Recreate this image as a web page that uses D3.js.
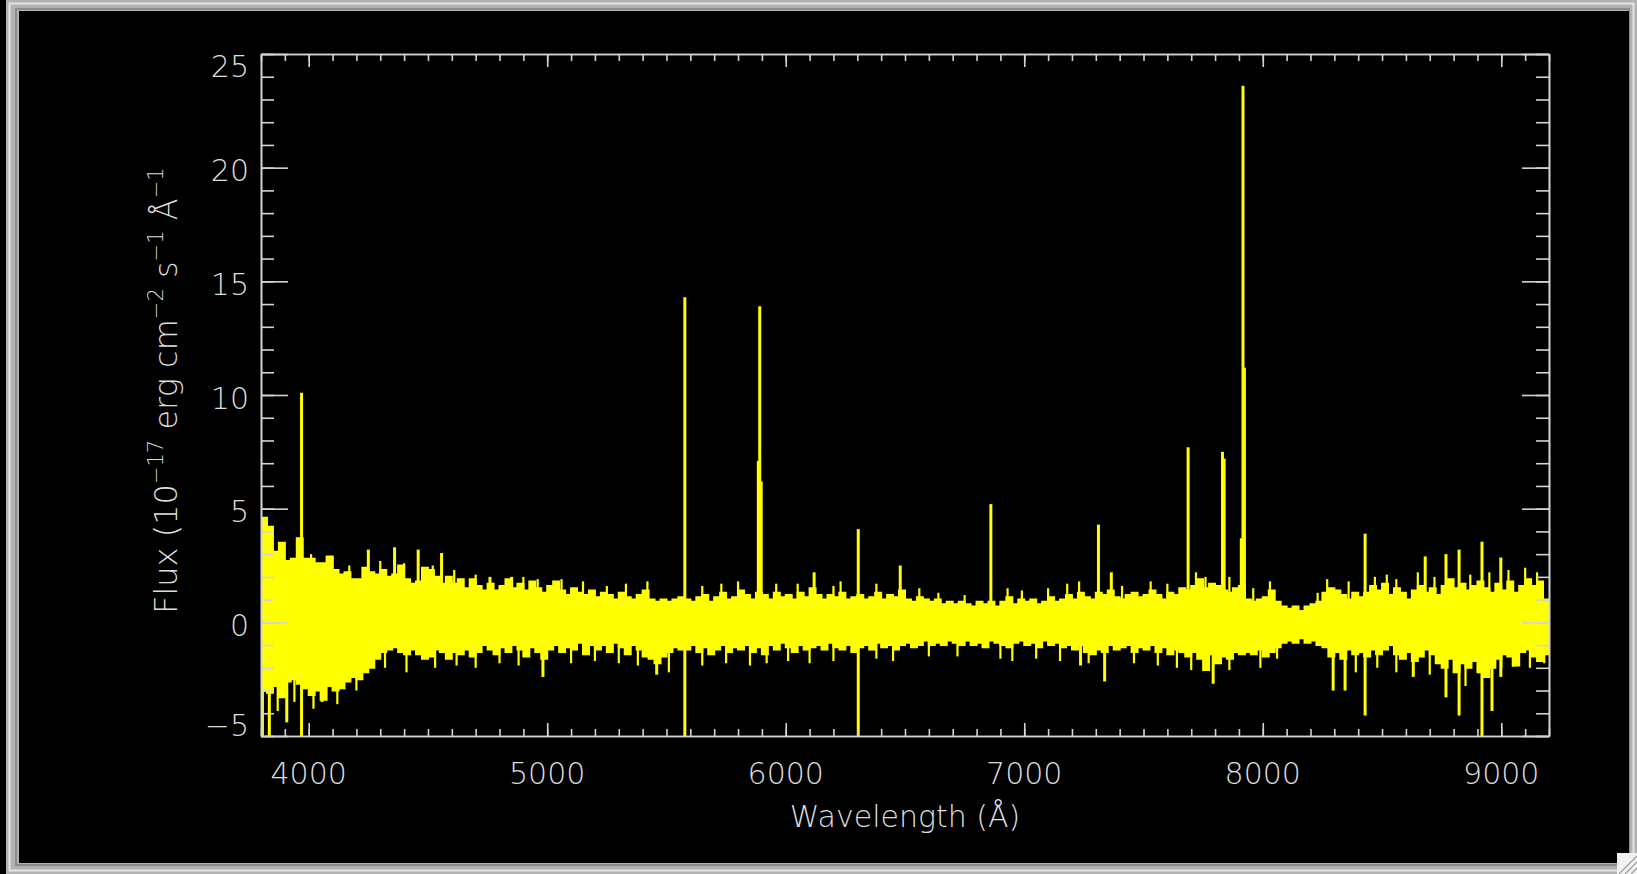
<!DOCTYPE html>
<html>
<head>
<meta charset="utf-8">
<script src="https://cdn.jsdelivr.net/npm/d3@7"></script>
<style>
  html, body { margin: 0; padding: 0; background: #000; overflow: hidden; }
  svg { display: block; }
  text { font-family: "DejaVu Sans", sans-serif; font-weight: 200; fill: #dedede; }
</style>
</head>
<body>
<script>
// spectrum: the noisy band is kept as an upper and a
// lower envelope in 25 A bins, the narrow lines and dips are listed apart

var binStart = 3800, binStep = 25;

var fluxHi = [
  4.6, 4.2, 3.1, 3.5, 2.7, 2.8, 3.7, 2.8,
  2.8, 2.6, 2.6, 2.9, 2.3, 2.1, 2.2, 1.9,
  1.9, 2.4, 2.2, 2.1, 2.3, 2.0, 2.1, 2.5,
  1.9, 1.7, 1.8, 2.4, 2.3, 2.0, 1.7, 2.0,
  1.7, 1.9, 1.5, 1.9, 1.6, 1.4, 1.7, 1.4,
  1.6, 1.9, 1.5, 1.7, 1.4, 1.8, 1.5, 1.3,
  1.6, 1.8, 1.4, 1.2, 1.5, 1.3, 1.2, 1.4,
  1.1, 1.3, 1.2, 1.0, 1.3, 1.1, 1.0, 1.2,
  1.4, 1.0, 0.9, 1.0, 0.9, 1.0, 1.1, 1.0,
  0.9, 1.1, 1.2, 0.9, 1.1, 1.3, 1.0, 1.1,
  1.4, 1.2, 1.0, 1.3, 1.2, 1.0, 1.3, 1.1,
  1.2, 1.0, 1.3, 1.1, 1.5, 1.2, 1.0, 1.2,
  1.1, 1.3, 1.0, 1.1, 1.2, 1.0, 1.1, 1.3,
  1.0, 1.2, 1.1, 1.4, 1.0, 0.9, 1.1, 1.0,
  0.9, 1.0, 0.8, 0.9, 0.8, 0.9, 0.8, 0.7,
  0.9, 0.8, 0.9, 0.7, 0.9, 1.1, 0.8, 1.0,
  0.9, 1.0, 0.8, 0.9, 1.1, 0.9, 1.0, 1.2,
  1.0, 1.3, 1.1, 1.0, 1.3, 1.2, 1.4, 1.1,
  1.0, 1.2, 1.3, 1.1, 1.2, 1.4, 1.2, 1.0,
  1.3, 1.2, 1.5, 1.4, 1.6, 1.9, 1.5, 1.7,
  1.6, 1.4, 1.3, 1.5, 1.6, 1.0, 0.9, 1.0,
  1.1, 1.4, 0.9, 0.7, 0.6, 0.7, 0.5, 0.7,
  0.8, 0.9, 1.3, 1.5, 1.4, 1.2, 1.0, 1.3,
  1.1, 1.3, 1.6, 1.4, 1.7, 1.2, 1.5, 1.3,
  1.0, 1.4, 1.6, 1.3, 1.5, 1.2, 1.6, 1.9,
  1.5, 1.7, 1.4, 1.6, 1.8, 1.5, 1.3, 1.7,
  1.4, 1.8, 1.3, 1.6, 1.9, 1.6, 1.8, 1.0
];

var fluxLo = [
  -3.0, -3.1, -2.8, -3.3, -2.6, -2.5, -2.7, -2.9,
  -3.2, -3.0, -3.4, -2.8, -3.0, -2.9, -2.6, -2.4,
  -2.5, -2.2, -2.0, -1.6, -1.3, -1.2, -1.1, -1.3,
  -1.4, -1.2, -1.4, -1.6, -1.5, -1.2, -1.3, -1.6,
  -1.3, -1.4, -1.2, -1.5, -1.3, -1.0, -1.2, -1.4,
  -1.1, -1.3, -1.0, -1.2, -1.5, -1.1, -1.3, -1.6,
  -1.2, -1.0, -1.3, -1.1, -1.2, -0.9, -1.4, -1.0,
  -1.2, -1.0, -1.3, -0.9, -1.1, -1.4, -1.0, -1.2,
  -1.5, -1.6, -1.8, -1.5, -1.3, -1.1, -1.2, -1.2,
  -1.0, -1.3, -1.1, -1.4, -1.2, -1.0, -1.3, -1.1,
  -1.2, -1.0, -1.3, -1.1, -1.4, -1.0, -1.2, -0.9,
  -1.1, -1.3, -1.0, -1.2, -1.1, -1.0, -1.2, -0.9,
  -1.1, -1.2, -1.0, -1.3, -1.1, -1.0, -1.2, -0.9,
  -1.1, -1.0, -1.2, -1.0, -0.9, -1.1, -1.0, -0.8,
  -1.0, -0.9, -1.0, -0.8, -0.9, -1.0, -0.8, -1.0,
  -0.9, -1.1, -0.8, -0.9, -1.0, -1.1, -0.9, -0.8,
  -1.0, -0.9, -1.1, -0.8, -1.0, -0.9, -1.1, -1.0,
  -1.2, -1.0, -1.3, -1.4, -1.2, -1.3, -1.0, -1.2,
  -1.1, -1.0, -1.3, -1.1, -1.2, -1.0, -1.3, -1.1,
  -1.4, -1.2, -1.3, -1.5, -1.3, -1.6, -2.1, -1.4,
  -1.8, -1.5, -1.6, -1.3, -1.4, -1.3, -1.4, -1.2,
  -1.5, -1.3, -1.1, -0.9, -0.8, -0.9, -0.7, -0.9,
  -0.8, -1.0, -1.1, -1.5, -1.3, -1.6, -1.2, -1.4,
  -1.3, -1.5, -1.2, -1.4, -1.2, -1.0, -1.4, -1.6,
  -1.3, -1.7, -1.5, -1.2, -1.4, -1.8, -2.0, -1.6,
  -2.2, -1.8, -2.0, -1.7, -2.2, -2.4, -2.0, -1.6,
  -1.4, -1.5, -1.9, -1.3, -1.2, -1.5, -1.7, -1.4
];

// narrow emission spikes: [wavelength, flux]
var lines = [
  [3802, 3.5], [3970, 10.1], [4250, 3.2], [4360, 3.3], [4459, 3.2], [4557, 3.05],
  [4760, 2.0], [4851, 2.0], [5577, 14.3], [5885, 7.1], [5891, 13.9], [5897, 6.2],
  [6119, 2.2], [6304, 4.1], [6480, 2.5], [6860, 5.2], [7311, 4.3], [7365, 2.2],
  [7687, 7.7], [7831, 7.5], [7838, 7.2], [7910, 3.7], [7917, 23.6], [7923, 11.2],
  [8429, 3.9], [8681, 2.9], [8768, 3.0], [8823, 3.2], [8919, 3.55], [8998, 2.85]
];

// narrow dips: [wavelength, flux]
var dips = [
  [3806, -5.5], [3835, -5.5], [3908, -4.4], [3970, -5.5], [4056, -3.5],
  [4982, -2.4], [5459, -2.3], [5577, -5.5], [6304, -5.5], [7236, -1.9],
  [7337, -2.6], [7792, -2.7], [8295, -3.0], [8345, -3.0], [8429, -4.1],
  [8631, -2.4], [8768, -3.3], [8823, -4.1], [8919, -5.5], [8961, -3.9],
  [8998, -2.4], [9050, -1.95]
];

// the smaller noise spikes that make the band edges ragged
var noiseUp = [
  [4010, 3.0], [4100, 2.9], [4170, 2.5], [4300, 2.7], [4400, 2.6], [4520, 2.5],
  [4610, 2.3], [4700, 2.1], [4900, 2.0], [4960, 1.9], [5060, 1.9], [5150, 1.8],
  [5250, 1.6], [5330, 1.7], [5420, 1.8], [5650, 1.6], [5730, 1.7], [5800, 1.8],
  [5960, 1.7], [6050, 1.7], [6200, 1.6], [6230, 1.8], [6380, 1.7], [6560, 1.5],
  [6640, 1.3], [6750, 1.2], [6930, 1.5], [6990, 1.4], [7100, 1.5], [7180, 1.7],
  [7230, 1.8], [7410, 1.6], [7530, 1.8], [7600, 1.7], [7720, 2.2], [7760, 2.0],
  [7860, 2.0], [7960, 1.5], [8030, 1.8], [8230, 1.3], [8270, 1.9], [8360, 1.8],
  [8470, 2.0], [8520, 2.1], [8560, 1.9], [8650, 2.2], [8720, 2.0], [8870, 2.1],
  [8950, 2.2], [9030, 2.3], [9100, 2.4], [9150, 2.2]
];

var noiseDown = [
  [3870, -3.9], [3940, -3.5], [4020, -3.8], [4120, -3.6], [4200, -3.0], [4320, -2.0],
  [4410, -2.2], [4530, -2.0], [4620, -1.9], [4700, -2.0], [4800, -1.8], [4880, -1.9],
  [5100, -1.8], [5200, -1.7], [5300, -1.8], [5380, -1.9], [5510, -2.2], [5650, -1.9],
  [5750, -1.8], [5850, -1.9], [5920, -1.8], [6010, -1.7], [6100, -1.8], [6200, -1.7],
  [6380, -1.6], [6450, -1.7], [6600, -1.5], [6720, -1.5], [6900, -1.6], [6950, -1.7],
  [7050, -1.6], [7150, -1.7], [7270, -1.8], [7460, -1.8], [7560, -1.9], [7640, -2.0],
  [7700, -2.1], [7860, -2.1], [7990, -2.0], [8060, -1.6], [8390, -2.2], [8480, -2.0],
  [8560, -2.2], [8700, -2.3], [8850, -2.8], [9000, -2.0], [9120, -2.0], [9180, -1.8]
];

var xTicks = [4000, 5000, 6000, 7000, 8000, 9000];
var yTicks = [-5, 0, 5, 10, 15, 20, 25];

var W = 1637, H = 874;
var plotLeft = 261, plotRight = 1549, plotTop = 54, plotBottom = 736;

var svg = d3.select('body').append('svg')
  .attr('width', W)
  .attr('height', H);

// window frame round the plot
svg.append('rect').attr('x', 0).attr('y', 0).attr('width', W).attr('height', H).attr('fill', '#000');
svg.append('rect').attr('x', 6).attr('y', 0).attr('width', W - 6).attr('height', H).attr('fill', '#b2b2b2');
svg.append('rect').attr('x', 9.5).attr('y', 3.5).attr('width', W - 13).attr('height', H - 7)
  .attr('fill', 'none').attr('stroke', '#e4e4e4').attr('stroke-width', 2);
svg.append('rect').attr('x', 16).attr('y', 9).attr('width', W - 24).attr('height', H - 18)
  .attr('fill', 'none').attr('stroke', '#8c8c8c').attr('stroke-width', 2);
svg.append('rect').attr('x', 19).attr('y', 11).attr('width', 1610).attr('height', 852).attr('fill', '#000');

// resize grip
var grip = svg.append('g');
grip.append('rect').attr('x', 1617).attr('y', 853).attr('width', 20).attr('height', 21).attr('fill', '#f2f2f2');
[6, 12, 18].forEach(function (k) {
  grip.append('line')
    .attr('x1', 1637 - k).attr('y1', 874).attr('x2', 1637).attr('y2', 874 - k)
    .attr('stroke', '#9a9a9a').attr('stroke-width', 1.2);
});

var x = d3.scaleLinear().domain([3800, 9200]).range([plotLeft, plotRight]);
var y = d3.scaleLinear().domain([-5, 25]).range([plotBottom, plotTop]);

var bins = fluxHi.map(function (v, i) {
  return { w: binStart + i * binStep, hi: v, lo: fluxLo[i] };
});
bins.push({ w: 9200, hi: fluxHi[fluxHi.length - 1], lo: fluxLo[fluxLo.length - 1] });

svg.append('clipPath').attr('id', 'plotclip')
  .append('rect').attr('x', plotLeft).attr('y', plotTop)
  .attr('width', plotRight - plotLeft).attr('height', plotBottom - plotTop);

var plot = svg.append('g').attr('clip-path', 'url(#plotclip)');

var band = d3.area()
  .x(function (d) { return x(d.w); })
  .y0(function (d) { return y(d.lo); })
  .y1(function (d) { return y(d.hi); })
  .curve(d3.curveStepAfter);

plot.append('path')
  .datum(bins)
  .attr('d', band)
  .attr('fill', '#ffff00')
  .attr('stroke', '#ffff00')
  .attr('stroke-width', 2);

function spikes(data, width) {
  plot.append('g').selectAll('line')
    .data(data)
    .enter()
    .append('line')
    .attr('x1', function (d) { return x(d[0]); })
    .attr('x2', function (d) { return x(d[0]); })
    .attr('y1', y(0))
    .attr('y2', function (d) { return y(d[1]); })
    .attr('stroke', '#ffff00')
    .attr('stroke-width', width);
}

spikes(noiseUp.concat(noiseDown), 2.2);
spikes(lines.concat(dips), 3);

// IDL style box: ticks on all four sides pointing inward
var axisColor = '#d4d4d4';

function drawAxis(axis, tx, ty) {
  var g = svg.append('g').attr('transform', 'translate(' + tx + ',' + ty + ')').call(axis);
  g.selectAll('text').remove();
  g.select('.domain').attr('stroke', axisColor).attr('stroke-width', 1.6);
  g.selectAll('.tick line').attr('stroke', axisColor).attr('stroke-width', 1.6);
  return g;
}

var xMinor = d3.range(3800, 9201, 100);
var yMinor = d3.range(-5, 26, 1);

drawAxis(d3.axisBottom(x).tickValues(xMinor).tickSizeInner(-7).tickSizeOuter(0), 0, plotBottom);
drawAxis(d3.axisBottom(x).tickValues(xTicks).tickSizeInner(-13).tickSizeOuter(0), 0, plotBottom);
drawAxis(d3.axisTop(x).tickValues(xMinor).tickSizeInner(-7).tickSizeOuter(0), 0, plotTop);
drawAxis(d3.axisTop(x).tickValues(xTicks).tickSizeInner(-13).tickSizeOuter(0), 0, plotTop);
drawAxis(d3.axisLeft(y).tickValues(yMinor).tickSizeInner(-13).tickSizeOuter(0), plotLeft, 0);
drawAxis(d3.axisLeft(y).tickValues(yTicks).tickSizeInner(-27).tickSizeOuter(0), plotLeft, 0);
drawAxis(d3.axisRight(y).tickValues(yMinor).tickSizeInner(-13).tickSizeOuter(0), plotRight, 0);
drawAxis(d3.axisRight(y).tickValues(yTicks).tickSizeInner(-27).tickSizeOuter(0), plotRight, 0);

// tick labels
svg.selectAll('text.xlab')
  .data(xTicks)
  .enter()
  .append('text')
  .attr('class', 'xlab')
  .attr('x', function (d) { return x(d); })
  .attr('y', 784)
  .attr('text-anchor', 'middle')
  .style('font-size', '30px')
  .text(function (d) { return d; });

svg.selectAll('text.ylab')
  .data(yTicks)
  .enter()
  .append('text')
  .attr('class', 'ylab')
  .attr('x', 249)
  .attr('y', function (d) { return Math.max(plotTop + 23, Math.min(plotBottom, y(d) + 13.5)); })
  .attr('text-anchor', 'end')
  .style('font-size', '30px')
  .text(function (d) { return d < 0 ? '\u2212' + Math.abs(d) : d; });

// axis titles
svg.append('text')
  .attr('x', (plotLeft + plotRight) / 2)
  .attr('y', 827)
  .attr('text-anchor', 'middle')
  .style('font-size', '30px')
  .text('Wavelength (\u00c5)');

var yt = svg.append('text')
  .attr('transform', 'translate(177,614) rotate(-90)')
  .style('font-size', '32px');

var parts = [
  ['Flux (10', false], ['\u221217', true], [' erg cm', false], ['\u22122', true],
  [' s', false], ['\u22121', true], [' \u00c5', false], ['\u22121', true]
];
var raised = false;
parts.forEach(function (p) {
  var t = yt.append('tspan').text(p[0]);
  if (p[1] && !raised) { t.attr('dy', -14).style('font-size', '21px'); raised = true; }
  else if (p[1]) { t.style('font-size', '21px'); }
  else if (raised) { t.attr('dy', 14); raised = false; }
});
</script>
</body>
</html>
